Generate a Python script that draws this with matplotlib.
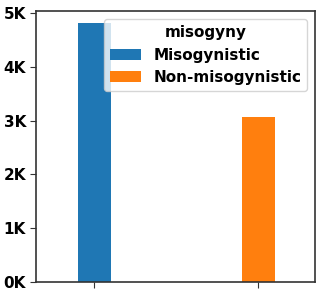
import matplotlib.pyplot as plt
from matplotlib.ticker import FuncFormatter

categories = ["Misogynistic", "Non-misogynistic"]
counts = [4810, 3065]
colors = ["#1f77b4", "#ff7f0e"]

plt.rcParams['font.weight'] = 'bold'
plt.rcParams['font.size'] = 11

fig, ax = plt.subplots(figsize=(3.22, 2.93), dpi=100)
fig.subplots_adjust(left=0.113, right=0.978, top=0.962, bottom=0.038)

for i, (cat, n) in enumerate(zip(categories, counts)):
    ax.bar(i, n, width=0.2, color=colors[i], label=cat)

ax.set_xlim(-0.352, 1.346)
ax.set_ylim(0, 5035)
ax.set_xticks([0, 1])
ax.set_xticklabels(["", ""])
ax.set_yticks([0, 1000, 2000, 3000, 4000, 5000])
ax.yaxis.set_major_formatter(FuncFormatter(lambda v, p: f"{int(v/1000)}K"))
for s in ax.spines.values():
    s.set_color("#333333")
    s.set_linewidth(1.2)
ax.tick_params(colors="#333333", labelcolor="black", length=4)

leg = ax.legend(title="misogyny", loc="upper right", title_fontproperties={'weight': 'bold', 'size': 11})

plt.savefig("out.png", dpi=100)
